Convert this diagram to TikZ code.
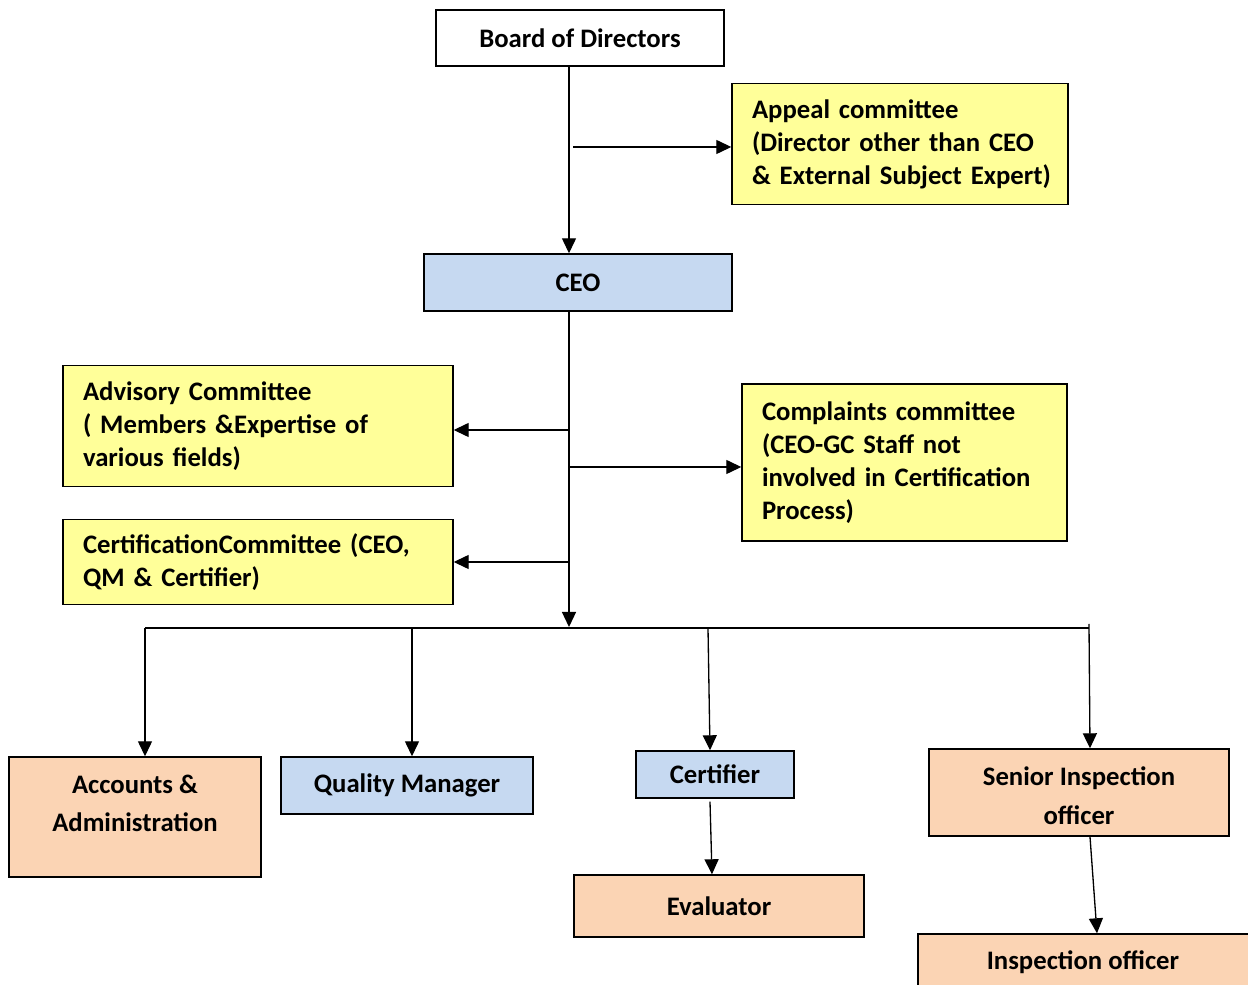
\documentclass[tikz,border=0pt]{standalone}
\usepackage{fontspec}
\setmainfont{Carlito}
\usetikzlibrary{arrows.meta,calc}
\definecolor{yel}{HTML}{FFFF99}
\definecolor{blu}{HTML}{C6D9F1}
\definecolor{pch}{HTML}{FBD4B4}
\tikzset{
  box/.style={draw=black, line width=0.8pt, inner sep=0pt, font=\fontsize{15.2}{18.8}\selectfont\bfseries},
  lbox/.style={box, align=left, inner xsep=0.4cm},
  cbox/.style={box, align=center},
  ctxt/.style={align=center, inner sep=0pt, font=\fontsize{15.2}{22}\selectfont\bfseries},
  arr/.style={line width=0.75pt, -{Triangle[length=0.3cm,width=0.28cm]}},
  ln/.style={line width=0.75pt}
}
\begin{document}
\begin{tikzpicture}
\useasboundingbox (0,0) rectangle (24.96,-19.70);
\fill[white] (0,0) rectangle (24.96,-19.70);
% boxes
\node[cbox, fill=white, minimum width=5.76cm, minimum height=1.12cm] (board) at (11.6,-0.76) {Board of Directors};
\node[lbox, fill=yel, text width=5.92cm, minimum height=2.42cm] (appeal) at (18.0,-2.88) {Appeal committee\\(Director other than CEO\\\mbox{\& External Subject Expert)}};
\node[cbox, fill=blu, minimum width=6.16cm, minimum height=1.14cm] (ceo) at (11.56,-5.65) {CEO};
\node[lbox, fill=yel, text width=7.0cm, minimum height=2.42cm] (adv) at (5.16,-8.52) {Advisory Committee\\( Members \&Expertise of\\various fields)};
\node[lbox, fill=yel, text width=5.7cm, minimum height=3.14cm] (comp) at (18.09,-9.25) {Complaints committee\\(CEO-GC Staff not\\\mbox{involved in Certification}\\Process)};
\node[lbox, fill=yel, text width=7.0cm, minimum height=1.70cm] (cert) at (5.16,-11.24) {\mbox{CertificationCommittee (CEO,}\\QM \& Certifier)};
\node[box, fill=pch, minimum width=5.04cm, minimum height=2.40cm] (acc) at (2.70,-16.34) {};
\node[ctxt] (acctxt) at (2.70,-16.07) {Accounts \&\\Administration};
\node[cbox, fill=blu, minimum width=5.04cm, minimum height=1.14cm] (qm) at (8.14,-15.71) {Quality Manager};
\node[cbox, fill=blu, minimum width=3.16cm, minimum height=0.94cm] (certif) at (14.30,-15.49) {Certifier};
\node[cbox, fill=pch, minimum width=5.80cm, minimum height=1.24cm] (eval) at (14.38,-18.12) {Evaluator};
\node[box, fill=pch, minimum width=6.0cm, minimum height=1.74cm] (senior) at (21.58,-15.85) {};
\node[ctxt] (seniortxt) at (21.58,-15.91) {Senior Inspection\\officer};
\node[box, fill=pch, minimum width=6.64cm, minimum height=1.24cm] (insp) at (21.68,-19.30) {};
\node[ctxt] (insptxt) at (21.66,-19.24) {Inspection officer};
% connectors
\coordinate (a1) at (11.46,-2.94);
\coordinate (bus) at (11.38,-12.54);
\coordinate (b1) at (11.38,-8.60);
\coordinate (b2) at (11.38,-9.34);
\coordinate (b3) at (11.38,-11.24);
\coordinate (busL) at (2.90,-12.56);
\coordinate (busR) at (21.78,-12.56);
\coordinate (busRt) at (21.78,-12.48);
\coordinate (dqm) at (8.24,-12.56);
\coordinate (dce) at (14.16,-12.56);
\draw[arr] ([xshift=-0.22cm]board.south) -- ([xshift=-0.18cm]ceo.north);
\draw[arr] (a1) -- (a1 -| appeal.west);
\draw[arr] ([xshift=-0.18cm]ceo.south) -- (bus);
\draw[arr] (b1) -- (b1 -| adv.east);
\draw[arr] (b2) -- (b2 -| comp.west);
\draw[arr] (b3) -- (b3 -| cert.east);
\draw[ln] (busL) -- (busR);
\draw[arr] (busL) -- (busL |- acc.north);
\draw[arr] (dqm) -- (dqm |- qm.north);
\draw[arr] (dce) -- ([xshift=-0.10cm]certif.north);
\draw[arr] (busRt) -- ([xshift=0.22cm]senior.north);
\draw[arr] ([xshift=-0.10cm,yshift=-0.06cm]certif.south) -- ([xshift=-0.14cm]eval.north);
\draw[arr] ([xshift=0.22cm]senior.south) -- ([xshift=0.26cm]insp.north);
\end{tikzpicture}
\end{document}
